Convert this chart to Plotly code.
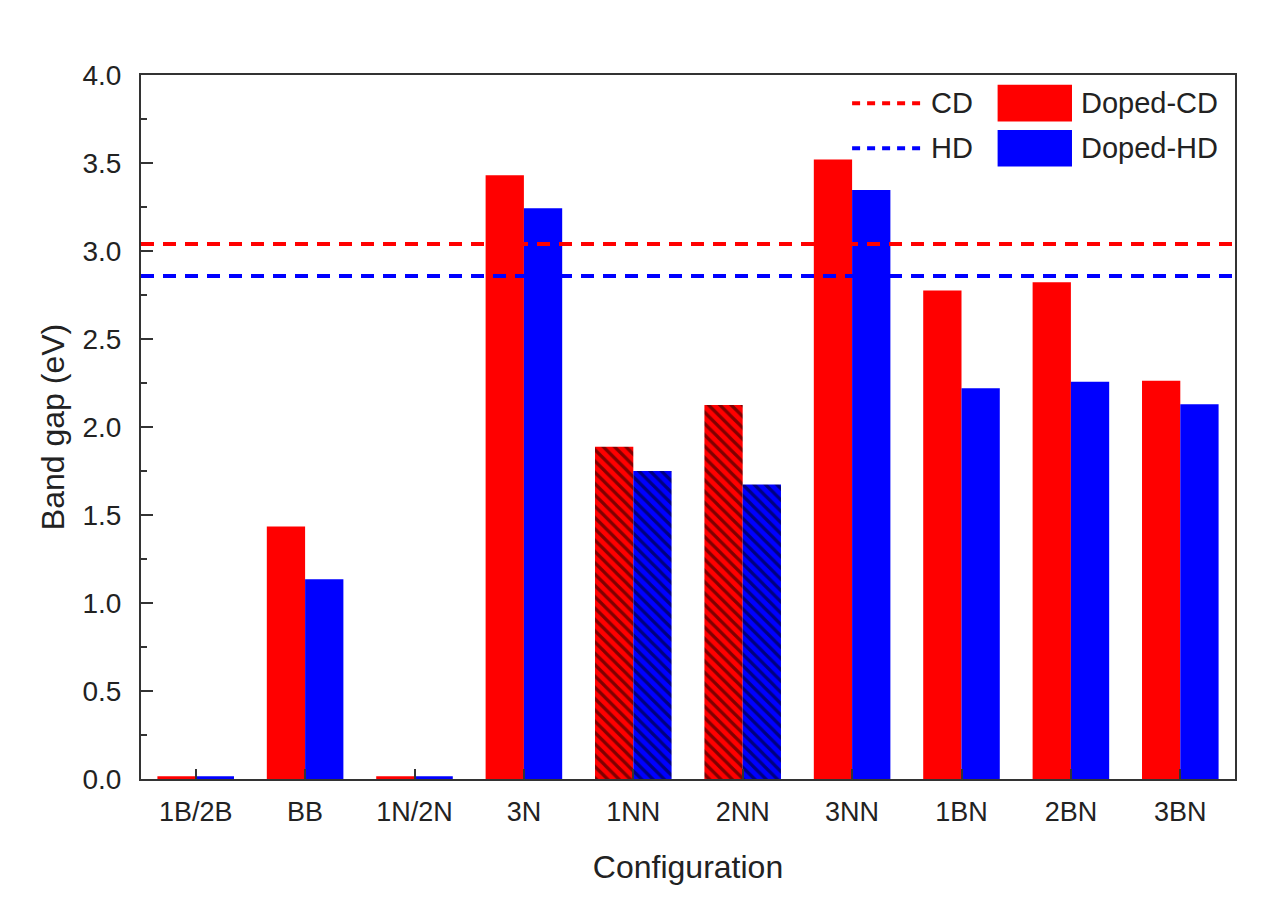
import plotly.graph_objects as go

categories = ["1B/2B", "BB", "1N/2N", "3N", "1NN", "2NN", "3NN", "1BN", "2BN", "3BN"]
doped_cd = [0.015, 1.434, 0.015, 3.43, 1.888, 2.125, 3.52, 2.775, 2.822, 2.263]
doped_hd = [0.015, 1.135, 0.015, 3.243, 1.75, 1.674, 3.347, 2.22, 2.257, 2.129]
hatched = [False, False, False, False, True, True, False, False, False, False]
cd_level = 3.04
hd_level = 2.858
y_ticks = [0.0, 0.5, 1.0, 1.5, 2.0, 2.5, 3.0, 3.5, 4.0]

FONT = "Liberation Sans, Arial, sans-serif"
TXT = "#222"
RED = "#FF0000"
BLUE = "#0000FF"
pattern_shapes = ["\\" if h else "" for h in hatched]

fig = go.Figure()

fig.add_trace(go.Bar(
    x=categories, y=doped_cd, name="Doped-CD",
    marker=dict(color=RED, line=dict(width=0),
                pattern=dict(shape=pattern_shapes, fgcolor="black", size=8, solidity=0.4)),
    showlegend=False,
))
fig.add_trace(go.Bar(
    x=categories, y=doped_hd, name="Doped-HD",
    marker=dict(color=BLUE, line=dict(width=0),
                pattern=dict(shape=pattern_shapes, fgcolor="black", size=8, solidity=0.4)),
    showlegend=False,
))

fig.add_trace(go.Scatter(
    x=[0, 1], y=[cd_level, cd_level], mode="lines", name="CD",
    line=dict(color=RED, width=4, dash="13px,9px"),
    xaxis="x2", showlegend=False,
))
fig.add_trace(go.Scatter(
    x=[0, 1], y=[hd_level, hd_level], mode="lines", name="HD",
    line=dict(color=BLUE, width=4, dash="13px,9px"),
    xaxis="x2", showlegend=False,
))

# manual legend (paper coordinates)
shapes = []
annotations = []
leg_rows = [(0.960, "CD", RED, "Doped-CD"), (0.896, "HD", BLUE, "Doped-HD")]
for yc, lname, col, bname in leg_rows:
    shapes.append(dict(type="line", xref="paper", yref="paper", x0=0.650, x1=0.716, y0=yc, y1=yc,
                       line=dict(color=col, width=4, dash="8px,7px")))
    annotations.append(dict(xref="paper", yref="paper", x=0.720, y=yc, xanchor="left", yanchor="middle",
                            text=lname, showarrow=False, font=dict(family=FONT, size=29, color=TXT)))
    shapes.append(dict(type="rect", xref="paper", yref="paper", x0=0.783, x1=0.851,
                       y0=yc - 0.026, y1=yc + 0.026, fillcolor=col, line=dict(width=0)))
    annotations.append(dict(xref="paper", yref="paper", x=0.857, y=yc, xanchor="left", yanchor="middle",
                            text=bname, showarrow=False, font=dict(family=FONT, size=29, color=TXT)))

fig.update_layout(
    width=1278, height=922,
    margin=dict(l=133, r=51, t=67, b=151),
    paper_bgcolor="white", plot_bgcolor="white",
    font=dict(family=FONT, size=26, color=TXT),
    barmode="group", bargap=0.3, bargroupgap=0,
    showlegend=False,
    shapes=shapes, annotations=annotations,
    xaxis=dict(
        categoryorder="array", categoryarray=categories,
        showline=True, linecolor="#333", linewidth=2, mirror=True,
        ticks="inside", ticklen=10, tickwidth=2, tickcolor="#333",
        tickfont=dict(family=FONT, size=27, color=TXT), ticklabelstandoff=8,
        title=dict(text="Configuration", font=dict(family=FONT, size=32, color=TXT), standoff=29),
        showgrid=False, zeroline=False,
    ),
    xaxis2=dict(overlaying="x", range=[0, 1], visible=False, fixedrange=True),
    yaxis=dict(
        range=[0, 4], tickvals=y_ticks, ticktext=[f"{v:.1f}" for v in y_ticks],
        showline=True, linecolor="#333", linewidth=2, mirror=True,
        ticks="inside", ticklen=12, tickwidth=2, tickcolor="#333",
        minor=dict(ticks="inside", ticklen=6, tickwidth=2, tickcolor="#333", dtick=0.25, showgrid=False),
        tickfont=dict(family=FONT, size=28, color=TXT), ticklabelstandoff=12,
        title=dict(text="Band gap (eV)", font=dict(family=FONT, size=32, color=TXT), standoff=8),
        showgrid=False, zeroline=False,
    ),
)

fig.write_html("out.html")
